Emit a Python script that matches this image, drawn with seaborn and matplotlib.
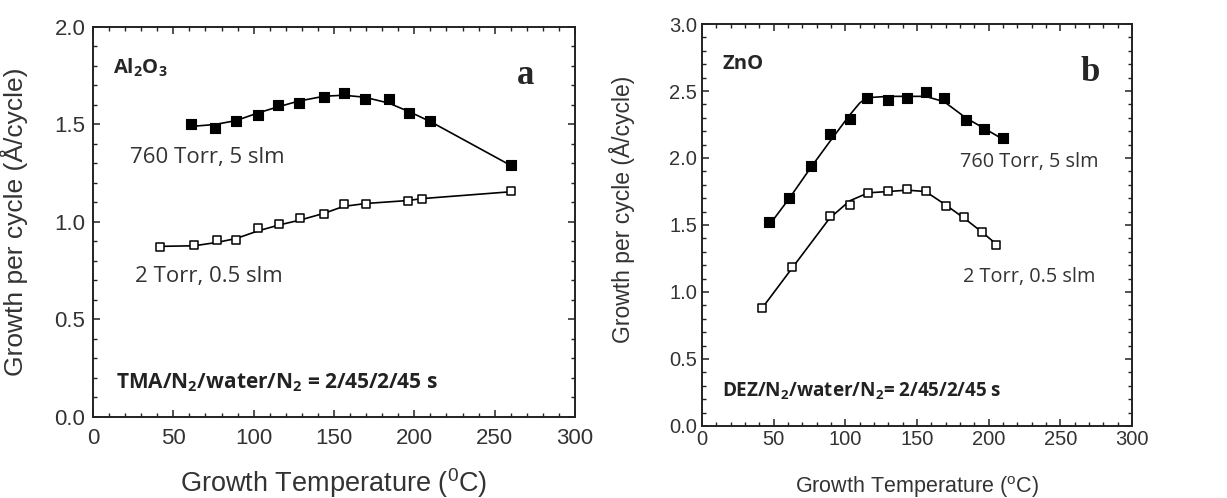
import matplotlib
matplotlib.use("Agg")
import matplotlib.pyplot as plt
from matplotlib.ticker import MultipleLocator
import seaborn as sns

# ---- dados ----
# (a) Al2O3
a_hi_t = [61, 76, 89, 103, 115, 128, 144, 156, 169, 184, 197, 210, 260]
a_hi_g = [1.50, 1.48, 1.52, 1.55, 1.60, 1.61, 1.64, 1.66, 1.63, 1.63, 1.56, 1.52, 1.29]
a_lo_t = [42, 63, 77, 89, 103, 116, 129, 144, 156, 170, 196, 205, 260]
a_lo_g = [0.87, 0.88, 0.91, 0.91, 0.97, 0.99, 1.02, 1.04, 1.09, 1.09, 1.11, 1.12, 1.16]
# curvas ajustadas
a_hi_fit_t = [61, 76, 89, 103, 115, 128, 144, 156, 169, 184, 197, 210, 260]
a_hi_fit_g = [1.49, 1.50, 1.52, 1.56, 1.59, 1.62, 1.645, 1.65, 1.64, 1.61, 1.565, 1.515, 1.29]
a_lo_fit_t = [42, 63, 77, 89, 103, 116, 129, 144, 156, 170, 196, 205, 260]
a_lo_fit_g = [0.875, 0.878, 0.895, 0.915, 0.955, 0.985, 1.01, 1.045, 1.08, 1.095, 1.11, 1.12, 1.155]

# (b) ZnO
b_hi_t = [47, 61, 76, 89, 103, 115, 130, 143, 156, 169, 184, 197, 210]
b_hi_g = [1.52, 1.70, 1.94, 2.18, 2.29, 2.45, 2.43, 2.45, 2.49, 2.45, 2.28, 2.22, 2.15]
b_lo_t = [42, 63, 89, 103, 116, 130, 143, 156, 170, 183, 195, 205]
b_lo_g = [0.88, 1.19, 1.57, 1.65, 1.74, 1.75, 1.77, 1.75, 1.64, 1.56, 1.45, 1.35]
b_hi_fit_t = [47, 61, 76, 89, 103, 110, 115, 130, 143, 156, 169, 184, 197, 210]
b_hi_fit_g = [1.50, 1.70, 1.93, 2.12, 2.32, 2.41, 2.45, 2.46, 2.46, 2.46, 2.42, 2.30, 2.22, 2.14]
b_lo_fit_t = [42, 63, 89, 103, 116, 130, 143, 156, 170, 183, 195, 205]
b_lo_fit_g = [0.88, 1.18, 1.55, 1.68, 1.74, 1.75, 1.76, 1.75, 1.65, 1.55, 1.45, 1.36]

sns.set_style("ticks")
plt.rcParams['font.family'] = ['Liberation Sans', 'DejaVu Sans']
plt.rcParams['mathtext.default'] = 'regular'
ANN = 'Open Sans'

fig = plt.figure(figsize=(12.27, 4.98), dpi=100)
axa = fig.add_axes([0.0758, 0.1627, 0.3928, 0.7831])
axb = fig.add_axes([0.5721, 0.1446, 0.3505, 0.8072])


def desenha(ax, hi_t, hi_g, lo_t, lo_g, fhi_t, fhi_g, flo_t, flo_g):
    sns.lineplot(x=fhi_t, y=fhi_g, ax=ax, color='black', lw=1.2, estimator=None)
    sns.lineplot(x=flo_t, y=flo_g, ax=ax, color='black', lw=1.2, estimator=None)
    sns.scatterplot(x=hi_t, y=hi_g, ax=ax, marker='s', s=44, color='black',
                    edgecolor='black', linewidth=0.8, zorder=3)
    sns.scatterplot(x=lo_t, y=lo_g, ax=ax, marker='s', s=38, color='white',
                    edgecolor='black', linewidth=1.1, zorder=3)


desenha(axa, a_hi_t, a_hi_g, a_lo_t, a_lo_g, a_hi_fit_t, a_hi_fit_g, a_lo_fit_t, a_lo_fit_g)
desenha(axb, b_hi_t, b_hi_g, b_lo_t, b_lo_g, b_hi_fit_t, b_hi_fit_g, b_lo_fit_t, b_lo_fit_g)

# eixos
for ax, ymax, tsize, ypad, xpad in [(axa, 2.0, 16, 5.5, 8), (axb, 3.0, 14.5, 3.5, 3)]:
    ax.set_xlim(0, 300)
    ax.set_ylim(0, ymax)
    ax.xaxis.set_major_locator(MultipleLocator(50))
    ax.xaxis.set_minor_locator(MultipleLocator(10))
    ax.yaxis.set_major_locator(MultipleLocator(0.5))
    ax.yaxis.set_minor_locator(MultipleLocator(0.1))
    ax.yaxis.set_major_formatter(matplotlib.ticker.FormatStrFormatter('%.1f'))
    ax.tick_params(which='both', direction='in', top=True, right=True, colors='#222222')
    ax.tick_params(which='major', length=5, width=1.1, labelsize=tsize, labelcolor='#333333')
    ax.tick_params(which='minor', length=2.8, width=1.0)
    ax.tick_params(axis='y', which='major', pad=ypad)
    ax.tick_params(axis='x', which='major', pad=xpad)
    for sp in ax.spines.values():
        sp.set_linewidth(1.4)
        sp.set_color('#222222')

axa.set_xlabel('Growth Temperature ($^{0}$C)', fontsize=19.5, color='#333333')
axa.set_ylabel('Growth per cycle (Å/cycle)', fontsize=19, color='#333333')
axa.xaxis.set_label_coords(0.5, -0.125)
axa.yaxis.set_label_coords(-0.135, 0.5)

axb.set_xlabel('Growth Temperature ($^{o}$C)', fontsize=15.5, color='#333333')
axb.set_ylabel('Growth per cycle (Å/cycle)', fontsize=16.5, color='#333333')
axb.xaxis.set_label_coords(0.5, -0.12)
axb.yaxis.set_label_coords(-0.156, 0.54)

# anotações (a)
axa.text(12.5, 1.79, 'Al$_2$O$_3$', family=ANN, weight='bold', fontsize=14.5, va='center')
axa.text(269, 1.75, 'a', family='Liberation Serif', weight='bold', fontsize=25,
         ha='center', va='center')
axa.text(23, 1.33, '760 Torr, 5 slm', family=ANN, fontsize=16, va='center', color='#333333')
axa.text(26, 0.72, '2 Torr, 0.5 slm', family=ANN, fontsize=16, va='center', color='#333333')
axa.text(14.5, 0.174, 'TMA/N$_2$/water/N$_2$ = 2/45/2/45 s', family=ANN, weight='bold',
         fontsize=15, va='center', color='#222222')

# anotações (b)
axb.text(14, 2.70, 'ZnO', family=ANN, weight='bold', fontsize=14.5, va='center')
axb.text(271, 2.64, 'b', family='Liberation Serif', weight='bold', fontsize=25,
         ha='center', va='center')
axb.text(180, 1.97, '760 Torr, 5 slm', family=ANN, fontsize=14.3, va='center', color='#333333')
axb.text(182, 1.11, '2 Torr, 0.5 slm', family=ANN, fontsize=14.3, va='center', color='#333333')
axb.text(14, 0.26, 'DEZ/N$_2$/water/N$_2$= 2/45/2/45 s', family=ANN, weight='bold',
         fontsize=13.6, va='center', color='#222222')

fig.savefig('out.png', dpi=100)
